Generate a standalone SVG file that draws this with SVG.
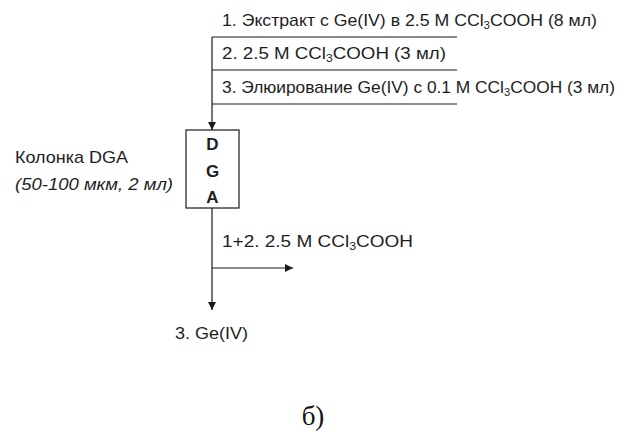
<svg xmlns="http://www.w3.org/2000/svg" width="626" height="434" viewBox="0 0 626 434">
<style>
.t{font-family:"Liberation Sans","DejaVu Sans",sans-serif;font-size:17px;fill:#1e1e1e}
.b{font-weight:bold}
.i{font-style:italic}
.ln{stroke:#1a1a1a;stroke-width:1.2;fill:none}
.sub{font-size:11px}
</style>
<defs>
<marker id="ah" viewBox="0 0 10 10" refX="10" refY="5" markerWidth="8" markerHeight="8" markerUnits="userSpaceOnUse" orient="auto">
<path d="M0,0 L10,5 L0,10 z" fill="#1a1a1a"/>
</marker>
</defs>
<rect width="626" height="434" fill="#fff"/>
<g id="connectors">
<path class="ln" d="M212,37 V130" marker-end="url(#ah)"/>
<path class="ln" d="M212,37 H457 M212,70 H457 M212,104 H457"/>
<path class="ln" d="M212,208 V310" marker-end="url(#ah)"/>
<path class="ln" d="M212,268 H293" marker-end="url(#ah)"/>
</g>
<g id="labels">
<text class="t" x="222" y="26" textLength="375" lengthAdjust="spacingAndGlyphs">1. Экстракт с Ge(IV) в 2.5 M CCl<tspan class="sub" dy="3">3</tspan><tspan dy="-3">COOH (8 мл)</tspan></text>
<text class="t" x="222" y="59" textLength="224" lengthAdjust="spacingAndGlyphs">2. 2.5 M CCl<tspan class="sub" dy="3">3</tspan><tspan dy="-3">COOH (3 мл)</tspan></text>
<text class="t" x="222" y="93" textLength="393" lengthAdjust="spacingAndGlyphs">3. Элюирование Ge(IV) с 0.1 M CCl<tspan class="sub" dy="3">3</tspan><tspan dy="-3">COOH (3 мл)</tspan></text>
<text class="t" x="222" y="247" textLength="191" lengthAdjust="spacingAndGlyphs">1+2. 2.5 M CCl<tspan class="sub" dy="3">3</tspan><tspan dy="-3">COOH</tspan></text>
</g>
<g id="column">
<rect x="186" y="130" width="53" height="78" fill="#fff" stroke="#1a1a1a" stroke-width="1.2"/>
<text class="t b" x="212.5" y="150" text-anchor="middle">D</text>
<text class="t b" x="212.5" y="177" text-anchor="middle">G</text>
<text class="t b" x="212.5" y="203" text-anchor="middle">A</text>
</g>
<g id="column-label">
<text class="t" x="15" y="163" textLength="113" lengthAdjust="spacingAndGlyphs">Колонка DGA</text>
<text class="t i" x="15" y="190" textLength="158" lengthAdjust="spacingAndGlyphs">(50-100 мкм, 2 мл)</text>
</g>
<g id="output">
<text class="t" x="175" y="339" textLength="73" lengthAdjust="spacingAndGlyphs">3. Ge(IV)</text>
</g>
<text x="313" y="425" text-anchor="middle" style="font-family:'Liberation Serif','DejaVu Serif',serif;font-size:27px;fill:#111">б)</text>
</svg>
